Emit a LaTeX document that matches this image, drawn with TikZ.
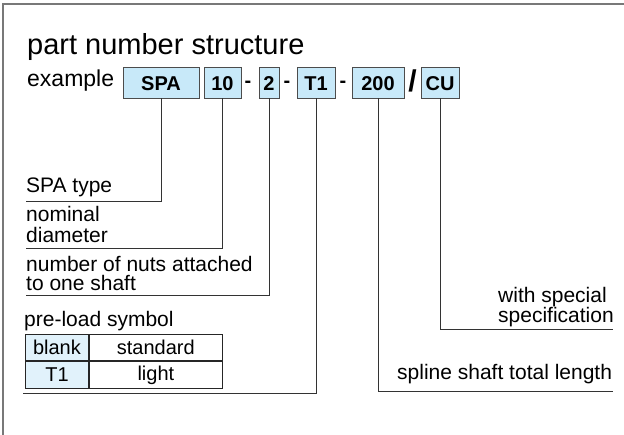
\documentclass[tikz,border=0pt]{standalone}
\usepackage{fontspec}
\setmainfont{Liberation Sans}
\usetikzlibrary{positioning}
\definecolor{codefill}{HTML}{C8E9F9}
\definecolor{cellfill}{HTML}{E1F2FB}
\definecolor{framegray}{HTML}{787878}

\tikzset{
  codebox/.style={draw=black!70, fill=codefill, line width=0.9pt, minimum height=31pt,
    inner sep=0pt, text height=17pt, text depth=0pt, font=\fontsize{20}{20}\selectfont\bfseries},
  joiner/.style={inner sep=0pt, font=\fontsize{20}{20}\selectfont\bfseries},
  lbl/.style={inner sep=0pt, align=left, anchor=base west, font=\fontsize{21}{20}\selectfont},
  lead/.style={line width=0.9pt, black!80},
  cell/.style={draw=black!85, line width=0.9pt, minimum height=26.5pt, inner sep=0pt,
    font=\fontsize{20}{20}\selectfont}
}

\begin{document}
\begin{tikzpicture}[x=1pt,y=-1pt]
  \useasboundingbox (0,0) rectangle (624,435);
  % open frame
  \draw[framegray, line width=1.6pt] (3,435) -- (3,4) -- (624,4);

  \node[lbl, font=\fontsize{29}{29}\selectfont] (title) at (27,55) {part number structure};
  \node[lbl, font=\fontsize{23}{23}\selectfont] (ex) at (27,87) {example};

  % code boxes
  \node[codebox, minimum width=76pt] (spa) at (161,82.5) {SPA};
  \node[codebox, minimum width=37pt] (dia) at (222.5,82.5) {10};
  \node[joiner] (d1) at (248,84) {-};
  \node[codebox, minimum width=20pt] (nuts) at (269,82.5) {2};
  \node[joiner] (d2) at (287,84) {-};
  \node[codebox, minimum width=38pt] (pre) at (316,82.5) {T1};
  \node[joiner] (d3) at (343,84) {-};
  \node[codebox, minimum width=52pt] (len) at (378,82.5) {200};
  \node[joiner, anchor=base, font=\fontsize{30}{30}\selectfont\bfseries] (sl) at (412.5,92) {/};
  \node[codebox, minimum width=38pt] (spec) at (440,82.5) {CU};

  % labels (base = last line)
  \node[lbl] (spalbl) at (26,193) {SPA type};
  \node[lbl, font=\fontsize{21}{21}\selectfont] (dialbl) at (26,243) {nominal\\diameter};
  \node[lbl, font=\fontsize{21}{19}\selectfont] (nutslbl) at (26,291) {number of nuts attached\\to one shaft};
  \node[lbl] (prelbl) at (24,327) {pre-load symbol};
  \node[lbl] (speclbl) at (498,323) {with special\\specification};
  \node[lbl] (lenlbl) at (397,380) {spline shaft total length};

  % pre-load table
  \node[cell, fill=cellfill, minimum width=63pt, anchor=north west] (blank) at (25,334) {blank};
  \node[cell, minimum width=133pt, right=0pt of blank] (std) {standard};
  \node[cell, fill=cellfill, minimum width=63pt, below=0pt of blank] (tone) {T1};
  \node[cell, minimum width=133pt, right=0pt of tone] (light) {light};

  % leader ends
  \coordinate (spaend) at (26,201);
  \coordinate (diaend) at (26,248);
  \coordinate (nutsend) at (26,295);
  \coordinate (preend) at (23,393);
  \coordinate (lenend) at (613,391);
  \coordinate (specend) at (613,329);

  \draw[lead] (spa.south) |- (spaend);
  \draw[lead] (dia.south) |- (diaend);
  \draw[lead] (nuts.south) |- (nutsend);
  \draw[lead] (pre.south) |- (preend);
  \draw[lead] (len.south) |- (lenend);
  \draw[lead] (spec.south) |- (specend);
\end{tikzpicture}
\end{document}
